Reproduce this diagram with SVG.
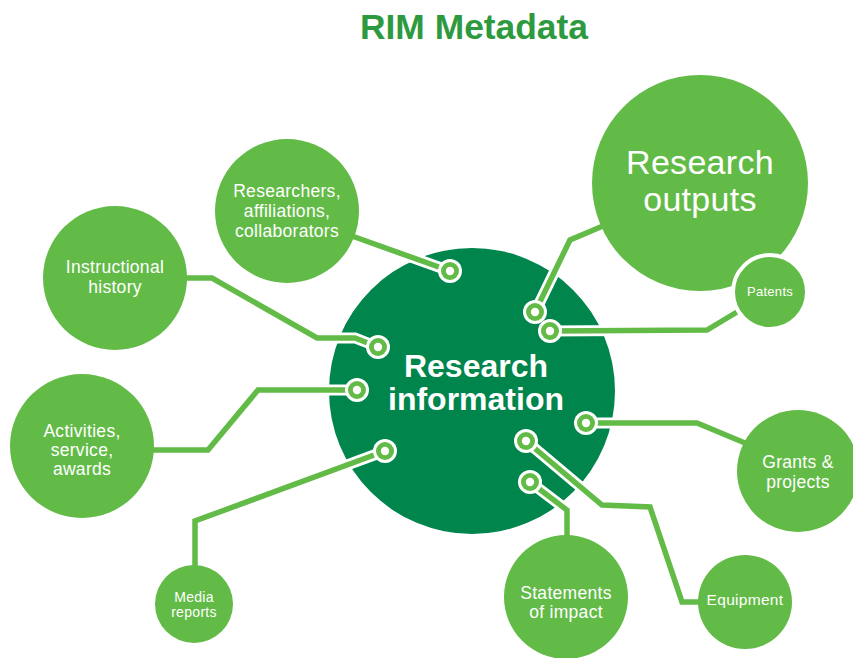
<svg xmlns="http://www.w3.org/2000/svg" width="853" height="658" viewBox="0 0 853 658">
<defs>
<style>
.lt{fill:#62bb47}
.dk{fill:#00854d}
.t{font-family:"Liberation Sans",Arial,sans-serif;fill:#fff;text-anchor:middle;letter-spacing:0.3px}
.halo{fill:none;stroke:#fff;stroke-width:11;stroke-linejoin:miter}
.wire{fill:none;stroke:#62bb47;stroke-width:5.5;stroke-linejoin:miter}
.pad-o{fill:#fff}
.pad-m{fill:#62bb47}
.pad-i{fill:#fff}
</style>
</defs>
<rect width="853" height="658" fill="#fff"/>
<text x="474" y="39" font-family="Liberation Sans,Arial,sans-serif" font-weight="bold" font-size="35" fill="#2e9a40" text-anchor="middle" textLength="228" lengthAdjust="spacingAndGlyphs">RIM Metadata</text>

<g id="research-information">
<circle class="dk" cx="472" cy="391" r="143"/>
<text class="t" font-weight="bold" font-size="32" x="476" y="377" style="letter-spacing:0">Research</text>
<text class="t" font-weight="bold" font-size="32" x="476" y="410" style="letter-spacing:0">information</text>
</g>

<g id="connectors">
<path class="halo" d="M352,236 L450,271"/>
<path class="wire" d="M352,236 L450,271"/>
<path class="halo" d="M185,278 L212,278 L317,338 L355,338 L378,347"/>
<path class="wire" d="M185,278 L212,278 L317,338 L355,338 L378,347"/>
<path class="halo" d="M152,450 L208,450 L258,390 L357,390"/>
<path class="wire" d="M152,450 L208,450 L258,390 L357,390"/>
<path class="halo" d="M195,568 L195,521 L385,451"/>
<path class="wire" d="M195,568 L195,521 L385,451"/>
<path class="halo" d="M535,312 L570,240 L603,226"/>
<path class="wire" d="M535,312 L570,240 L603,226"/>
<path class="halo" d="M550,331 L707,330 L742,309"/>
<path class="wire" d="M550,331 L707,330 L742,309"/>
<path class="halo" d="M586,423 L697,423 L745,443"/>
<path class="wire" d="M586,423 L697,423 L745,443"/>
<path class="halo" d="M526,441 L602,505 L650,507 L682,602 L700,602"/>
<path class="wire" d="M526,441 L602,505 L650,507 L682,602 L700,602"/>
<path class="halo" d="M530,482 L567,510 L567,537"/>
<path class="wire" d="M530,482 L567,510 L567,537"/>
<g>
<circle class="pad-o" cx="450" cy="271" r="12"/><circle class="pad-m" cx="450" cy="271" r="9"/><circle class="pad-i" cx="450" cy="271" r="4.2"/>
<circle class="pad-o" cx="378" cy="347" r="12"/><circle class="pad-m" cx="378" cy="347" r="9"/><circle class="pad-i" cx="378" cy="347" r="4.2"/>
<circle class="pad-o" cx="357" cy="390" r="12"/><circle class="pad-m" cx="357" cy="390" r="9"/><circle class="pad-i" cx="357" cy="390" r="4.2"/>
<circle class="pad-o" cx="385" cy="451" r="12"/><circle class="pad-m" cx="385" cy="451" r="9"/><circle class="pad-i" cx="385" cy="451" r="4.2"/>
<circle class="pad-o" cx="535" cy="312" r="12"/><circle class="pad-m" cx="535" cy="312" r="9"/><circle class="pad-i" cx="535" cy="312" r="4.2"/>
<circle class="pad-o" cx="550" cy="331" r="12"/><circle class="pad-m" cx="550" cy="331" r="9"/><circle class="pad-i" cx="550" cy="331" r="4.2"/>
<circle class="pad-o" cx="586" cy="423" r="12"/><circle class="pad-m" cx="586" cy="423" r="9"/><circle class="pad-i" cx="586" cy="423" r="4.2"/>
<circle class="pad-o" cx="526" cy="441" r="12"/><circle class="pad-m" cx="526" cy="441" r="9"/><circle class="pad-i" cx="526" cy="441" r="4.2"/>
<circle class="pad-o" cx="530" cy="482" r="12"/><circle class="pad-m" cx="530" cy="482" r="9"/><circle class="pad-i" cx="530" cy="482" r="4.2"/>
</g>
</g>

<g id="research-outputs">
<circle class="lt" cx="700" cy="183" r="108"/>
<text class="t" font-size="34" x="700" y="174">Research</text>
<text class="t" font-size="34" x="700" y="211">outputs</text>
</g>
<g id="patents">
<circle class="lt" cx="770" cy="292" r="37" stroke="#fff" stroke-width="4"/>
<text class="t" font-size="13" x="770" y="296">Patents</text>
</g>
<g id="researchers">
<circle class="lt" cx="287" cy="211" r="72"/>
<text class="t" font-size="17.5" x="287" y="197">Researchers,</text>
<text class="t" font-size="17.5" x="287" y="217">affiliations,</text>
<text class="t" font-size="17.5" x="287" y="237">collaborators</text>
</g>
<g id="instructional-history">
<circle class="lt" cx="115" cy="278" r="72"/>
<text class="t" font-size="17.5" x="115" y="273">Instructional</text>
<text class="t" font-size="17.5" x="115" y="293">history</text>
</g>
<g id="activities">
<circle class="lt" cx="82" cy="446" r="72"/>
<text class="t" font-size="17.5" x="82" y="437">Activities,</text>
<text class="t" font-size="17.5" x="82" y="456">service,</text>
<text class="t" font-size="17.5" x="82" y="475">awards</text>
</g>
<g id="media-reports">
<circle class="lt" cx="194" cy="604" r="39"/>
<text class="t" font-size="14" x="194" y="602">Media</text>
<text class="t" font-size="14" x="194" y="617">reports</text>
</g>
<g id="statements-of-impact">
<circle class="lt" cx="566" cy="597" r="62"/>
<text class="t" font-size="17.5" x="566" y="599">Statements</text>
<text class="t" font-size="17.5" x="566" y="618">of impact</text>
</g>
<g id="equipment">
<circle class="lt" cx="745" cy="602" r="47"/>
<text class="t" font-size="15.5" x="745" y="605">Equipment</text>
</g>
<g id="grants-projects">
<circle class="lt" cx="798" cy="471" r="61"/>
<text class="t" font-size="17.5" x="798" y="468">Grants &amp;</text>
<text class="t" font-size="17.5" x="798" y="488">projects</text>
</g>
</svg>
